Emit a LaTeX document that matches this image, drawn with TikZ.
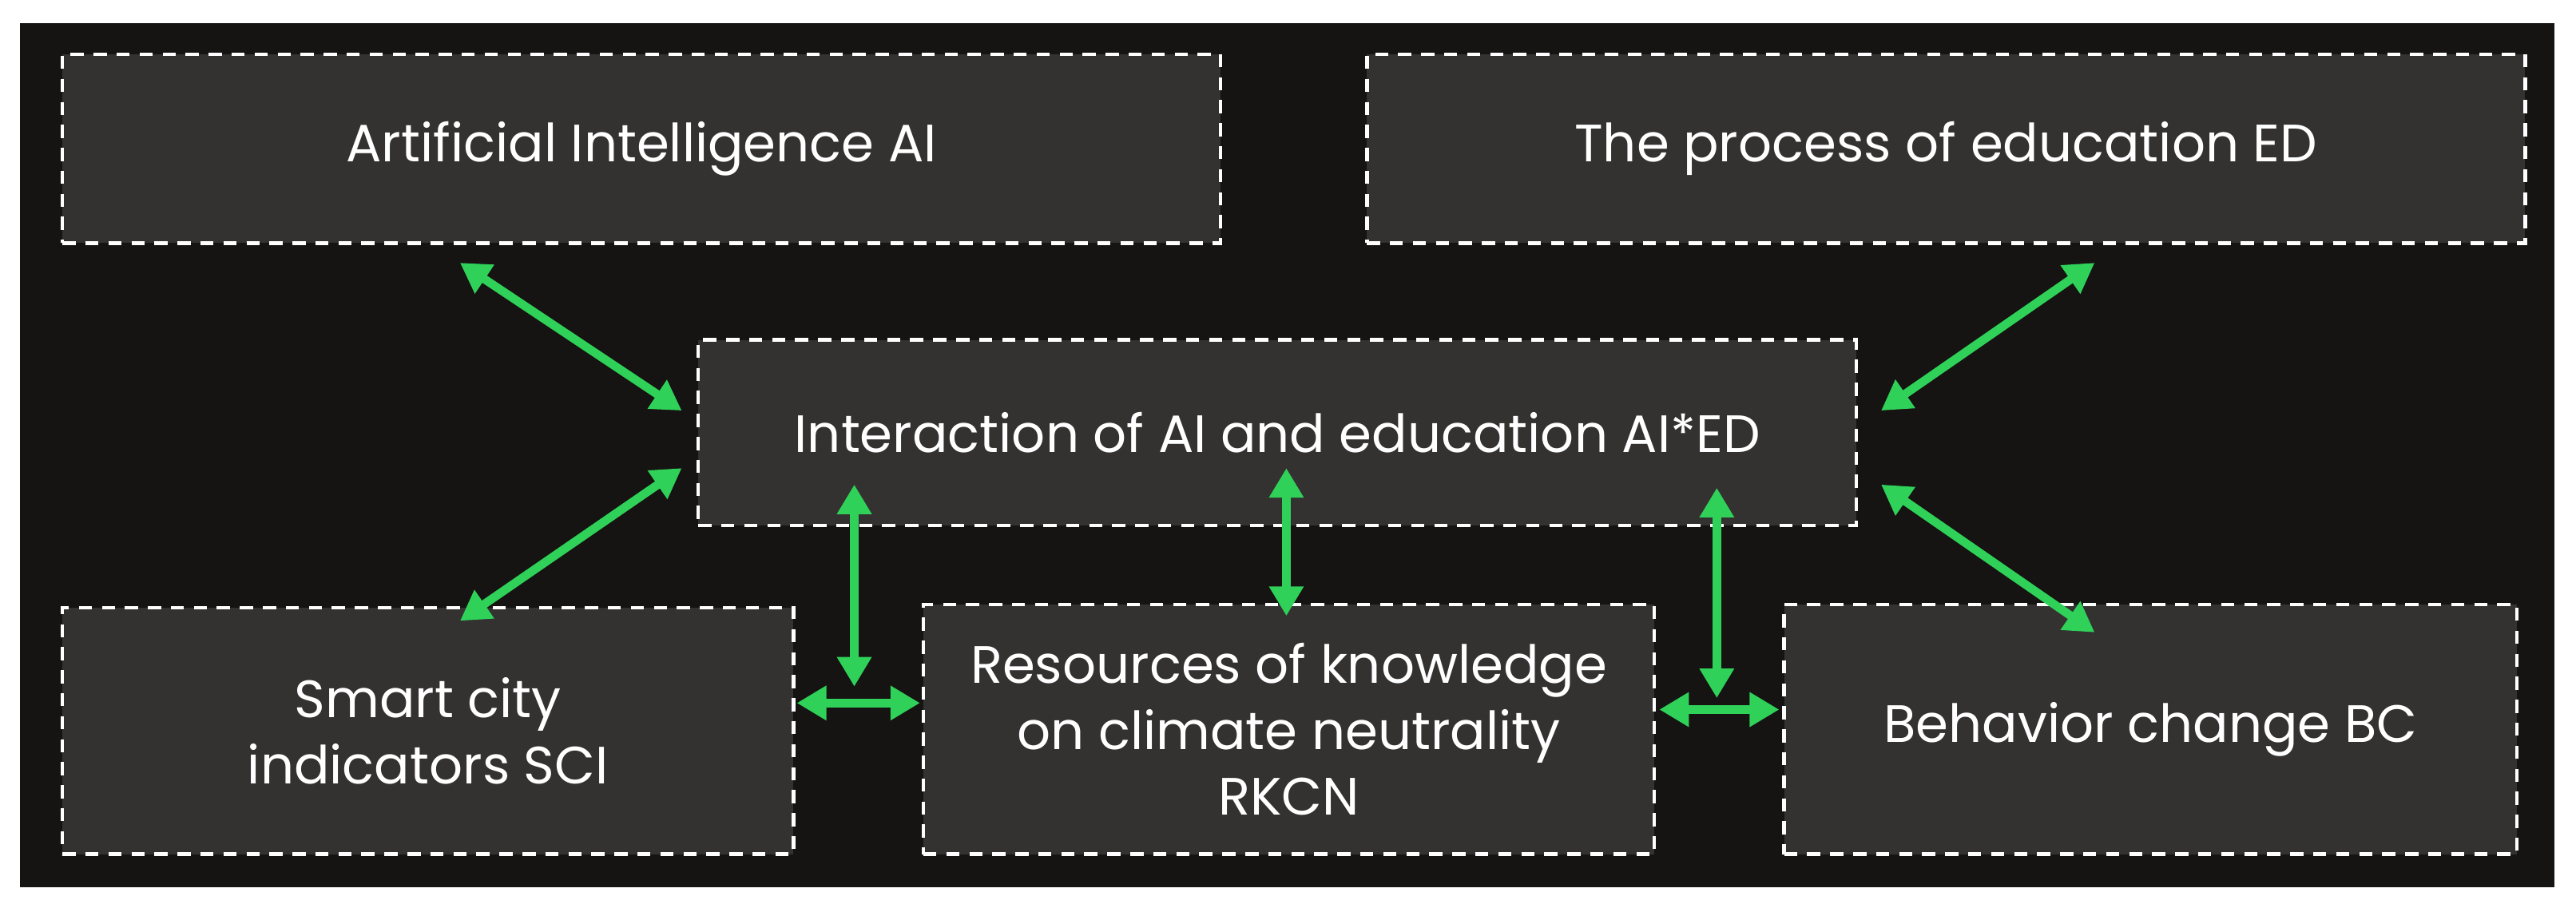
\documentclass[tikz,border=0pt]{standalone}
\usepackage{fontspec}
\setmainfont{Poppins}
\usetikzlibrary{arrows.meta}
\definecolor{bg}{HTML}{161313}
\definecolor{boxc}{HTML}{343131}
\definecolor{grn}{HTML}{2FD158}
\begin{document}
\begin{tikzpicture}[x=0.5pt,y=-0.5pt,
  box/.style={draw=white,dashed,line width=1.1pt,dash pattern=on 4pt off 3pt,fill=boxc,text=white,inner sep=0pt,align=center,font=\fontsize{16}{20}\selectfont},
  arr/.style={grn,line width=2.6pt,{Triangle[length=9pt,width=10pt]}-{Triangle[length=9pt,width=10pt]}}]
\useasboundingbox (0,0) rectangle (1568,555);
\fill[white] (0,0) rectangle (1568,555);
\fill[bg] (12,14) rectangle (1555,540);
\node[box,minimum width=352.5pt,minimum height=57.5pt] (ai) at (390.5,90.5) {Artificial Intelligence AI};
\node[box,minimum width=352.5pt,minimum height=57.5pt] (ed) at (1184.5,90.5) {The process of education ED};
\node[box,minimum width=352.5pt,minimum height=56.5pt] (ia) at (777.5,263.5) {Interaction of AI and education AI*ED};
\node[box,minimum width=222.5pt,minimum height=75pt] (sci) at (260.5,445) {Smart city\\indicators SCI};
\node[box,minimum width=222.5pt,minimum height=76pt] (rk) at (784.5,444) {Resources of knowledge\\on climate neutrality\\RKCN};
\node[box,minimum width=223pt,minimum height=76pt] (bc) at (1309,444) {Behavior change BC};
\coordinate (a1) at (280,160); \coordinate (a2) at (415,250);
\coordinate (e1) at (1275,160); \coordinate (e2) at (1145,250);
\coordinate (s1) at (280,378); \coordinate (s2) at (415,285);
\coordinate (b1) at (1145,295); \coordinate (b2) at (1275,385);
\coordinate (v1) at (520,295); \coordinate (v2) at (520,418);
\coordinate (w1) at (783,285); \coordinate (w2) at (783,375);
\coordinate (u1) at (1045,297); \coordinate (u2) at (1045,425);
\coordinate (h1) at (485,428); \coordinate (h2) at (560,428);
\coordinate (k1) at (1010,432); \coordinate (k2) at (1083,432);
\draw[arr] (a1) -- (a2);
\draw[arr] (e1) -- (e2);
\draw[arr] (s1) -- (s2);
\draw[arr] (b1) -- (b2);
\draw[arr] (v1) -- (v2);
\draw[arr] (w1) -- (w2);
\draw[arr] (u1) -- (u2);
\draw[arr] (h1) -- (h2);
\draw[arr] (k1) -- (k2);
\end{tikzpicture}
\end{document}
